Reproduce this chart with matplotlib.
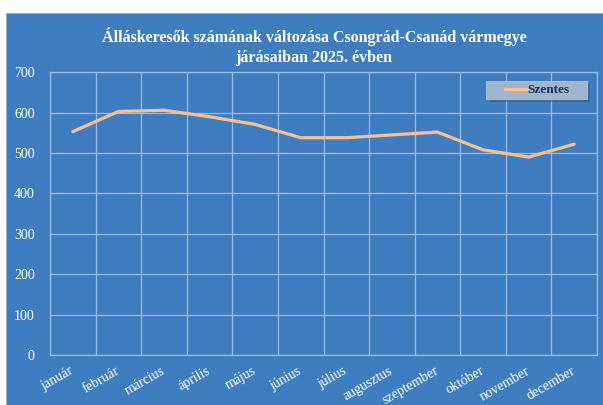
import matplotlib.pyplot as plt
import matplotlib.patches as patches

# Data
months = ['január', 'február', 'március', 'április', 'május', 'június',
          'július', 'augusztus', 'szeptember', 'október', 'november', 'december']
szentes = [553, 603, 606, 590, 571, 538, 538, 545, 552, 508, 490, 522]
y_ticks = [0, 100, 200, 300, 400, 500, 600, 700]

title = 'Álláskeresők számának változása Csongrád-Csanád vármegye\njárásaiban 2025. évben'

panel_color = '#3E7DC0'
grid_color = '#9DBDE0'
line_color = '#FAC090'

fig = plt.figure(figsize=(6.03, 4.05), dpi=100)
fig.patch.set_facecolor('white')

# Blue chart panel behind everything
panel = patches.Rectangle((6 / 603, 0), 1.0, (405 - 13) / 405,
                          transform=fig.transFigure, facecolor=panel_color,
                          edgecolor='#8FB0D8', linewidth=0.8, zorder=-5)
fig.patches.append(panel)

ax = fig.add_axes([50 / 603, 50 / 405, (597 - 50) / 603, (355 - 72.3) / 405])
ax.set_facecolor(panel_color)

x = list(range(len(months)))
ax.plot(x, szentes, color=line_color, linewidth=2.3, label='Szentes',
        solid_capstyle='round', zorder=3)

ax.set_xlim(-0.5, len(months) - 0.5)
ax.set_ylim(0, 700)
ax.set_yticks(y_ticks)
ax.set_xticks(x)
ax.set_xticklabels(months, rotation=30, ha='right', va='center',
                   rotation_mode='anchor', fontsize=10, family='Liberation Serif',
                   color='white')
ax.set_xticks([i + 0.5 for i in range(-1, len(months))], minor=True)
for lab in ax.get_yticklabels():
    lab.set_family('Liberation Serif')
    lab.set_fontsize(10)
    lab.set_color('white')

ax.tick_params(axis='x', which='major', length=0, pad=11)
ax.tick_params(axis='x', which='minor', length=0)
ax.tick_params(axis='y', length=0, pad=11)

ax.grid(True, axis='y', which='major', color=grid_color, linewidth=0.9)
ax.grid(True, axis='x', which='minor', color=grid_color, linewidth=0.9)
ax.grid(False, axis='x', which='major')
ax.set_axisbelow(True)
for side in ['left', 'bottom', 'right', 'top']:
    ax.spines[side].set_color(grid_color)
    ax.spines[side].set_linewidth(0.9)

fig.text(314 / 603, (405 - 47) / 405, title, ha='center', va='center',
         fontsize=11.5, fontweight='bold', family='Liberation Serif',
         color='white', linespacing=1.3)

# legend box drawn by hand (wide, with shadow), legend itself without frame
lx0, lx1, ly0, ly1 = 0.797, 0.982, 0.906, 0.969
shadow = patches.Rectangle((lx0 + 0.005, ly0 - 0.01), lx1 - lx0, ly1 - ly0,
                           transform=ax.transAxes, facecolor='#2C5A8A',
                           alpha=0.5, edgecolor='none', zorder=4)
box = patches.Rectangle((lx0, ly0), lx1 - lx0, ly1 - ly0,
                        transform=ax.transAxes, facecolor='#9FB5CE',
                        edgecolor='#B5C7DB', linewidth=0.6, zorder=5)
ax.add_patch(shadow)
ax.add_patch(box)

leg = ax.legend(loc='center', bbox_to_anchor=(0.891, 0.937), frameon=False,
                handlelength=1.6, handletextpad=0.05, borderpad=0.0,
                prop={'family': 'Liberation Serif', 'weight': 'bold', 'size': 9.5})
leg.set_zorder(6)
for t in leg.get_texts():
    t.set_color('#1F3356')

fig.savefig('out.png', dpi=100, facecolor=fig.get_facecolor())
